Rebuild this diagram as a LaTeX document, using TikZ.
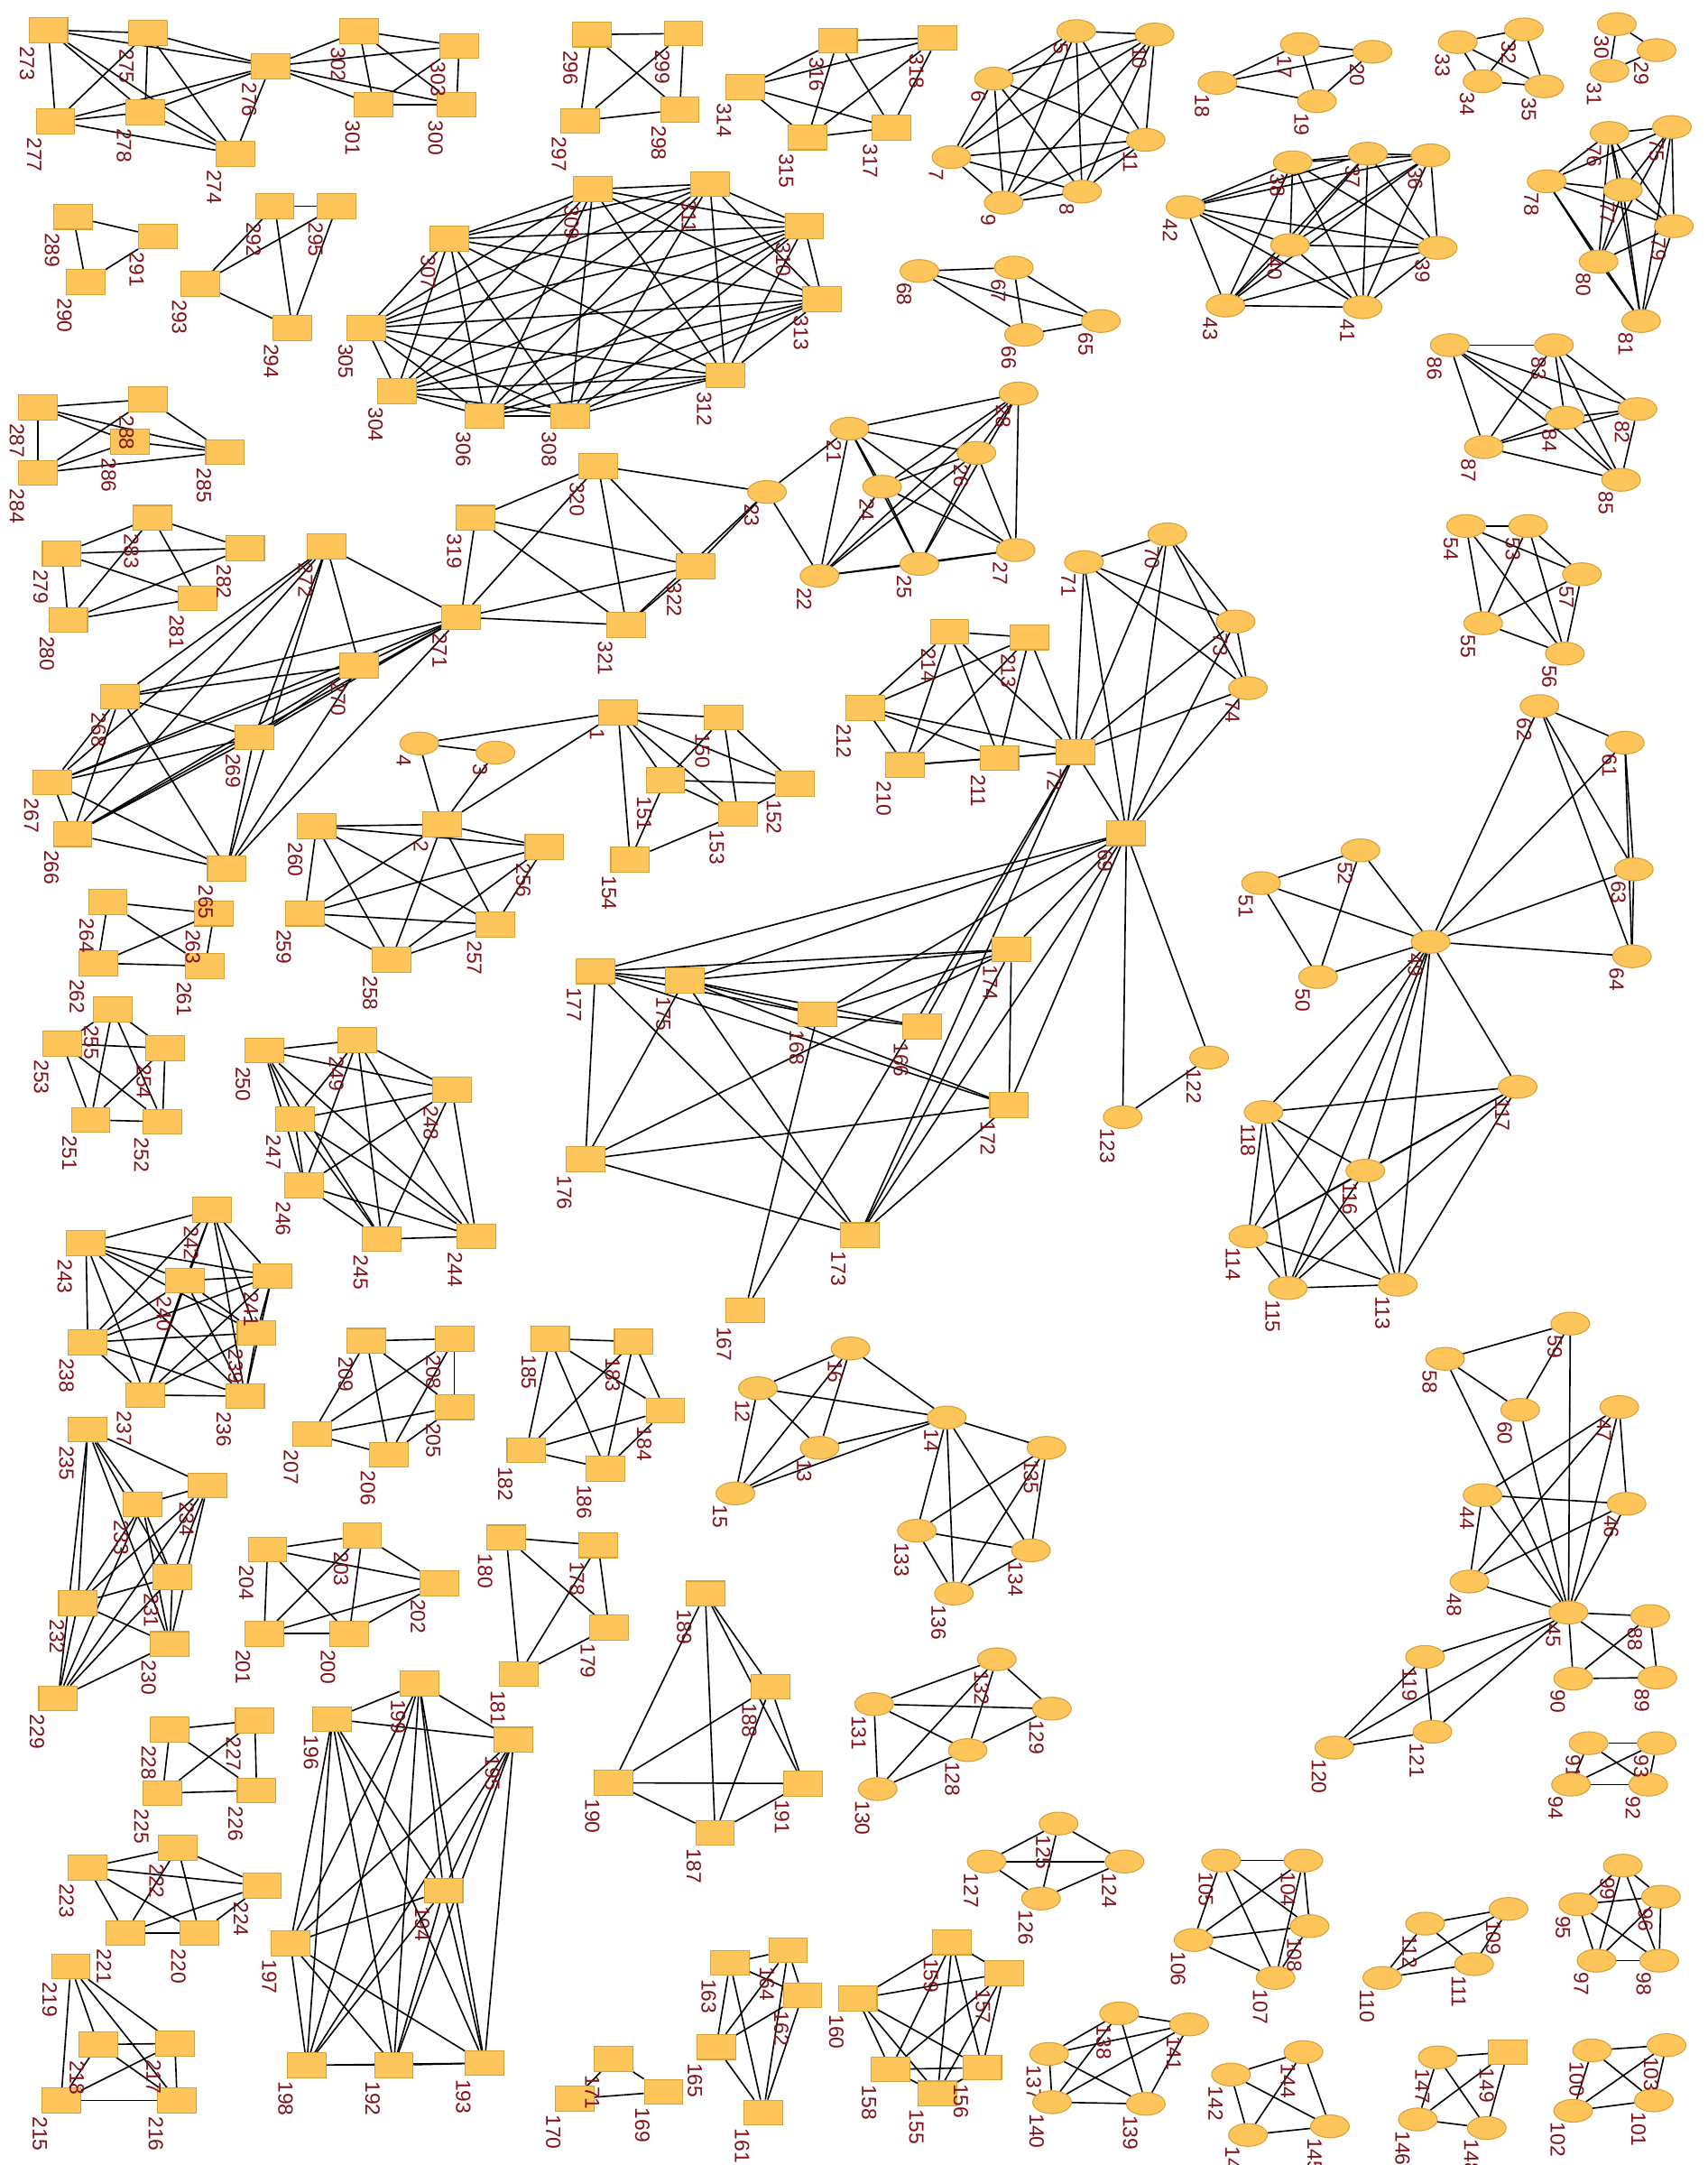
\documentclass[tikz,border=0pt]{standalone}
\usepackage{fontspec}
\setmainfont{Liberation Sans}
\usetikzlibrary{shapes.geometric}
\pgfdeclarelayer{bglayer}
\pgfdeclarelayer{edgelayer}
\pgfsetlayers{bglayer,edgelayer,main}
\definecolor{nfill}{RGB}{254,198,90}
\definecolor{nborder}{RGB}{214,160,60}
\definecolor{lred}{RGB}{128,16,24}
\newcommand\clq[1]{\foreach \x [count=\i] in {#1} {\foreach \y [count=\j] in {#1} {\ifnum\j>\i\relax \draw[edge] (n\x)--(n\y);\fi}}}
\newcommand\myedges[1]{\foreach \a/\b in {#1} {\draw[edge] (n\a)--(n\b);}}
\begin{document}
\begin{tikzpicture}[x=0.02cm,y=-0.02cm,
  sq/.style={draw=nborder,fill=nfill,line width=0.4pt,minimum width=0.56cm,minimum height=0.36cm,inner sep=0pt},
  el/.style={ellipse,draw=nborder,fill=nfill,line width=0.4pt,minimum width=0.56cm,minimum height=0.33cm,inner sep=0pt},
  lbl/.style={rotate=-90,anchor=west,inner sep=0pt,text=lred,font=\fontsize{8.5}{8.5}\selectfont},
  edge/.style={black,line width=0.6pt}]
\begin{pgfonlayer}{bglayer}
\fill[white] (0,0) rectangle (1237,1568);
\end{pgfonlayer}
\useasboundingbox (0,0) rectangle (1237,1568);
% ellipse nodes
\foreach \n/\px/\py in {3/358.9/545.1, 4/303.7/538.4, 5/779.6/22.5, 6/720/57, 7/689.2/113.8, 8/783.8/138.8, 9/727/146.8, 10/836.4/25, 11/829.9/101.3, 12/549/1005.4, 13/593.7/1048.6, 14/685.8/1026.6, 15/532.7/1081.6, 16/616.1/976.6, 17/941.6/32, 18/881.9/60, 19/954/73.3, 20/994.2/37.5, 21/615.3/310.5, 22/593.7/417.1, 23/555.6/356.3, 24/639/352.5, 25/666/408.4, 26/707.3/328, 27/735.7/398.4, 28/737.8/285, 29/1200/36.3, 30/1171.2/17.5, 31/1165.9/51.3, 32/1103.9/21.3, 33/1056/30.5, 34/1073.9/58.8, 35/1118.6/62.5, 36/1036.3/112.5, 37/990.8/111.3, 38/936.4/117.5, 39/1041.5/179.5, 40/934.5/177.5, 41/987.1/222.5, 42/858.8/150, 43/887.7/221.3, 44/1073.9/1082.9, 45/1136.2/1167.9, 46/1178.3/1089.1, 47/1173/1019.1, 48/1064.4/1145.4, 49/1036.3/682.1, 50/954.8/707.6, 51/913.5/639.6, 52/985.5/615.9, 53/1107/381, 54/1062/381, 55/1074.4/451.4, 56/1133.6/473.4, 57/1145.9/415.9, 58/1046.8/984.1, 59/1137.5/958.6, 60/1101.2/1021.1, 61/1177/537.9, 62/1115.2/511.4, 63/1183.5/629.6, 64/1182.2/692.6, 65/797.5/232.5, 66/741.8/242.5, 67/734.4/193.8, 68/666/196.3, 70/845.6/387, 71/785.2/407.1, 73/895.1/450.1, 74/904/498.4, 75/1211.1/92, 76/1165.9/96.3, 77/1175.6/137.5, 78/1120.4/131.3, 79/1212.5/163.8, 80/1158/189.5, 81/1188.8/232.5, 82/1186.2/296.3, 83/1125.7/250, 84/1133.6/302.5, 85/1174.3/347.5, 86/1050.2/250, 87/1074.9/323.8, 88/1195.4/1170.4, 89/1200.6/1215, 90/1139.6/1215.7, 91/1150.7/1262.5, 92/1194/1292.5, 93/1200.1/1262.5, 94/1138/1292.5, 95/1143.3/1379.2, 96/1203.2/1373.7, 97/1156.5/1420, 98/1201.9/1420, 99/1175.6/1351.2, 100/1153.3/1485, 101/1198/1521.2, 102/1139.6/1528.7, 103/1207.2/1481.2, 104/944.2/1347.5, 105/884.6/1347.5, 106/864.6/1405, 107/924/1432.5, 108/948.7/1395, 109/1092.8/1382.5, 110/1001.3/1432.5, 111/1067.8/1422.5, 112/1032.3/1393.2, 113/1012.6/930.4, 114/904.3/895.4, 115/932.9/932.9, 116/989/847.9, 117/1099.4/787.1, 118/915.3/805.4, 119/1032.3/1200, 120/966.6/1265.7, 121/1037.6/1254.2, 122/875.9/765.9, 123/813.3/809.1, 124/814.6/1348.2, 125/766.8/1320.7, 126/754.1/1375, 127/714.7/1348.2, 128/701/1267.5, 129/762/1237.5, 130/635.8/1295.7, 131/633.2/1234.2, 132/722.1/1201.7, 133/664.2/1108.6, 134/746.8/1122.9, 135/758.1/1048.6, 136/691/1154.1, 137/760/1487.5, 138/810.7/1458.2, 139/830/1523.7, 140/762.1/1522.5, 141/861.4/1466.2, 142/891.7/1502.5, 143/904/1546.2, 144/944.2/1486.2, 145/963.4/1540, 146/1027.1/1535, 147/1041.5/1490, 148/1077/1541.2}
{\node[el] (n\n) at (\px,\py) {}; \node[lbl] (l\n) at ([shift={(-1,2)}]n\n.south west) {\n};}
% square nodes
\foreach \n/\px/\py in {1/447.8/515.9, 2/320.3/597.1, 69/815.9/603.4, 72/779.1/544.6, 149/1092.3/1486.2, 150/524.1/519.6, 151/482/565.1, 152/575.9/567.6, 153/534.6/589.6, 154/456.5/622.6, 155/679.2/1516.2, 156/711.5/1497.5, 157/727.3/1429.2, 158/645/1498.7, 159/689.7/1406.7, 160/621.3/1447.5, 161/553/1530, 162/581.4/1445, 163/528.8/1421.7, 164/570.9/1412.5, 165/518.8/1482.5, 166/667.9/743.4, 167/539.8/949.1, 168/592.4/734.6, 169/480.7/1515, 170/416.2/1520, 171/444.4/1491.2, 172/731/800.4, 173/622.7/894.6, 174/732.6/687.6, 175/495.9/710.1, 176/424.1/839.6, 177/431.2/703.4, 178/433.3/1119.1, 179/441.2/1178.7, 180/366.8/1113.6, 181/376/1212.5, 182/381.3/1050.4, 183/459.1/971.6, 184/482/1021.6, 185/398.4/969.6, 186/438.6/1063.6, 187/518/1327.5, 188/558.2/1221.7, 189/510.9/1154.1, 190/444.4/1291.2, 191/581.9/1291.7, 192/285.3/1495.7, 193/351/1494.2, 194/321.3/1369.2, 195/372.1/1260, 196/240.6/1245, 197/210.4/1407.5, 198/222.2/1495.7, 199/303.7/1219.2, 200/253/1183.2, 201/191.4/1183.2, 202/318.2/1146.6, 203/262.4/1112.1, 204/193.8/1122.1, 205/329.2/1019.1, 206/281.9/1053.6, 207/226.1/1038.6, 208/329.2/969.6, 209/265.6/971.1, 210/655.5/554.1, 211/723.9/549.1, 212/626.6/512.6, 213/745.7/461.6, 214/687.9/457.6, 215/44.2/1521.2, 216/128.3/1521.2, 217/126.7/1480, 218/71/1480.7, 219/51.3/1424.2, 220/144.6/1400, 221/90.7/1400, 222/128.8/1338.2, 223/63.6/1352.5, 224/189.9/1365.7, 225/117.8/1298.7, 226/185.9/1296.7, 227/184.6/1246.2, 228/123.1/1252.5, 229/42.1/1230, 230/123.1/1190.7, 231/124.9/1142.1, 232/56.5/1161.1, 233/103.1/1089.6, 234/150.4/1075.9, 235/63.6/1035.4, 236/177.5/1011.1, 237/105.2/1010.4, 238/63.6/972.1, 239/185.9/965.4, 240/134.1/927.4, 241/197.2/924.1, 242/153.8/876.1, 243/62.3/900.4, 244/345/895.4, 245/276.6/897.4, 246/220.4/858.6, 247/213.5/810.4, 248/327.4/789.1, 249/259/753.4, 250/191.4/760.9, 251/65.7/811.1, 252/117.8/812.4, 253/45.2/755.9, 254/119.6/759.1, 255/81.5/730.9, 256/394.4/613.4, 257/358.9/669.6, 258/283.5/695.1, 259/220.9/661.6, 260/229.3/598.4, 261/148.6/699.6, 262/71/697.6, 263/155.1/661.6, 264/78.1/653.4, 265/164.3/629.1, 266/52.6/604.1, 267/38.1/566.6, 268/86.8/504.6, 269/184.1/534.1, 270/260.3/482.1, 271/333.9/447.1, 272/236.7/395.9, 273/35/21.8, 274/170.4/111.3, 275/107/23.8, 276/195.9/48, 277/40.2/88, 278/105.2/81.3, 279/44.7/400.9, 280/49.4/449.1, 281/143.3/433.4, 282/177.5/397.1, 283/110.4/375, 284/27.6/342.5, 285/163/327.5, 286/94.1/320, 287/27.6/295, 288/107/289.3, 289/53.1/157, 290/62.1/204.3, 291/114.4/171.3, 292/199/149.3, 293/145.2/205.5, 294/211.7/237.5, 295/244/149.3, 296/428.6/25, 297/420.2/87.5, 298/492.5/79.5, 299/495.1/24.3, 300/330.8/75.8, 301/270.8/75.8, 302/260.3/22.5, 303/332.6/33.3, 304/287.4/283.3, 305/265.6/237.5, 306/351/301.3, 307/325.5/173, 308/413/301.3, 309/429.4/137, 310/582.7/163.8, 311/514.3/133.3, 312/525.4/272, 313/595.6/216.8, 314/539.8/63, 315/585/99.5, 316/606.9/29.5, 317/645.8/92.5, 318/679.2/27.5, 319/344.5/375, 320/433.3/337.5, 321/453.8/452.6, 322/503.8/410.1}
{\node[sq] (n\n) at (\px,\py) {}; \node[lbl] (l\n) at ([shift={(-1,2)}]n\n.south west) {\n};}
\begin{pgfonlayer}{edgelayer}
\clq{273,274,275,276,277,278}
\myedges{276/302,276/303,276/301,276/300}
\clq{300,301,302,303}
\clq{289,290,291}
\clq{292,293,294,295}
\clq{304,305,306,307,308,309,310,311,312,313}
\clq{296,297,298,299}
\clq{314,315,316,317,318}
\clq{5,6,7,8,9,10,11}
\clq{65,66,67,68}
\clq{17,18,19,20}
\clq{32,33,34,35}
\clq{29,30,31}
\clq{36,37,38,39,40,41,42,43}
\clq{75,76,77,78,79,80,81}
\clq{82,83,84,85,86,87}
\myedges{287/288,287/286,287/285,287/284,288/285,288/284,286/285,286/284,284/285}
\myedges{279/283,279/282,279/281,279/280,283/282,283/281,283/280,282/280,281/280}
\clq{265,266,267,268,269,270,271,272}
\clq{271,319,320,321,322}
\myedges{23/320,23/322,23/321,23/21,23/22}
\clq{21,22,24,25,26,27,28}
\myedges{4/3,4/2,3/2,4/1,2/1}
\clq{2,256,257,258,259,260}
\clq{261,262,263,264}
\clq{251,252,253,254,255}
\myedges{1/150,1/151,1/152,1/153,1/154,150/151,150/152,150/153,151/152,151/153,151/154,152/153,153/154}
\clq{72,210,211,212,213,214}
\clq{69,70,71,72,73,74}
\myedges{69/122,69/123,122/123}
\clq{53,54,55,56,57}
\clq{49,61,62,63,64}
\clq{49,50,51,52}
\clq{49,113,114,115,116,117,118}
\myedges{69/177,69/175,69/174,69/168,69/172,69/173,72/166,72/167,72/173,177/175,177/174,177/176,177/168,177/173,177/172,175/174,175/176,175/168,175/166,175/173,175/172,174/172,174/176,174/168,174/173,168/166,168/167,172/176,172/173,176/173}
\clq{244,245,246,247,248,249,250}
\clq{236,237,238,239,240,241,242,243}
\clq{229,230,231,232,233,234,235}
\clq{205,206,207,208,209}
\clq{182,183,184,185,186}
\clq{200,201,202,203,204}
\clq{178,179,180,181}
\clq{12,13,14,15,16}
\clq{14,133,134,135,136}
\clq{187,188,189,190,191}
\myedges{132/131,132/129,132/128,132/130,131/129,131/128,131/130,128/129,128/130}
\clq{124,125,126,127}
\clq{161,162,163,164,165}
\clq{169,170,171}
\clq{155,156,157,158,159,160}
\clq{137,138,139,140,141}
\clq{192,193,194,195,196,197,198,199}
\clq{225,226,227,228}
\clq{220,221,222,223,224}
\clq{215,216,217,218,219}
\myedges{59/58,59/60,59/45,58/60,58/45,60/45}
\clq{44,45,46,47,48}
\clq{45,88,89,90}
\myedges{45/119,45/120,45/121}
\clq{119,120,121}
\clq{91,92,93,94}
\clq{95,96,97,98,99}
\clq{100,101,102,103}
\clq{104,105,106,107,108}
\clq{109,110,111,112}
\clq{142,143,144,145}
\clq{146,147,148,149}
\end{pgfonlayer}
\end{tikzpicture}
\end{document}
